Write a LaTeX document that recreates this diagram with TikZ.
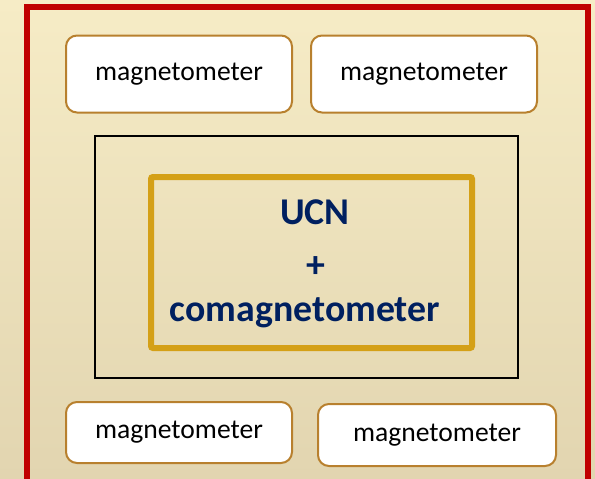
\documentclass[tikz,border=0pt]{standalone}
\usepackage{fontspec}
\setmainfont{Carlito}
\usepackage{tikz}
\usetikzlibrary{positioning}
\definecolor{redframe}{RGB}{192,0,0}
\definecolor{magline}{RGB}{184,128,46}
\definecolor{goldline}{RGB}{212,160,23}
\definecolor{navy}{RGB}{0,32,96}
\definecolor{bgtop}{RGB}{246,236,198}
\definecolor{bgbot}{RGB}{226,213,176}

\begin{document}
\begin{tikzpicture} [x=1pt, y=-1pt, on grid, magbox/.style ={draw=magline, line width=2pt, fill=white, rounded corners=11pt, minimum width=226pt, minimum height=77pt, inner sep=0pt, font=\fontsize{27.6}{32}\selectfont}, coretext/.style ={text=navy, inner sep=0pt, font=\fontsize{37.8}{44}\selectfont\bfseries}]
\useasboundingbox (0,0) rectangle (595,479);
\shade[top color=bgtop, bottom color=bgbot] (0,0) rectangle (595,479);
\draw[redframe, line width=6pt] (27,7) rectangle (588,490);
\node[magbox] (M1) at (179,74) {magnetometer};
\node[magbox] (M2) [right=245pt of M1] {magnetometer};
\node[magbox, minimum height=61pt] (M3) at (179,432.5) {magnetometer};
\node[magbox, minimum width=238pt, minimum height=62pt] (M4) at (437,435) {magnetometer};
\draw[line width=2pt] (95,136) rectangle (518,378);
\draw[goldline, line width=6pt, rounded corners=2pt] (151,177) rectangle (472,348);
\node[coretext] (UCN) at (315,212) {UCN};
\node[coretext] (plus) at (316,267) {+};
\node[coretext] (coma) at (305,313) {comagnetometer};
\end{tikzpicture}
\end{document}
